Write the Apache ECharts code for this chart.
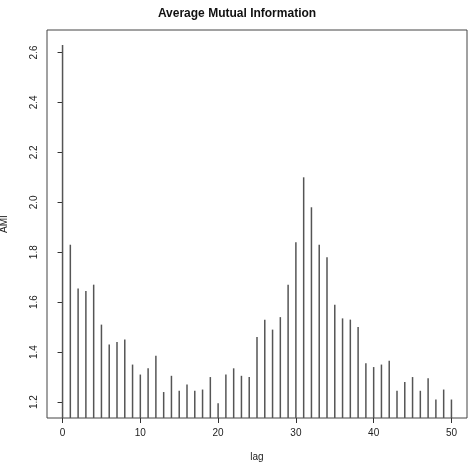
<!DOCTYPE html>
<html>
<head>
<meta charset="utf-8">
<script src="https://cdn.jsdelivr.net/npm/echarts@6/dist/echarts.min.js"></script>
<style>html,body{margin:0;padding:0;background:#fff}#main{width:474px;height:466px}</style>
</head>
<body>
<div id="main"></div>
<script>
var lags = [];
for (var i = 0; i <= 50; i++) lags.push(i);
var ami = [2.63, 1.83, 1.655, 1.645, 1.67, 1.51, 1.43, 1.44, 1.45, 1.35,
    1.31, 1.335, 1.385, 1.24, 1.305, 1.245, 1.27, 1.245, 1.25, 1.30,
    1.195, 1.31, 1.335, 1.305, 1.30, 1.46, 1.53, 1.49, 1.54, 1.67,
    1.84, 2.10, 1.98, 1.83, 1.78, 1.59, 1.535, 1.53, 1.50, 1.355,
    1.34, 1.35, 1.365, 1.245, 1.28, 1.30, 1.245, 1.295, 1.21, 1.25,
    1.21];
var xTicks = [0, 10, 20, 30, 40, 50];
var yTicks = [1.2, 1.4, 1.6, 1.8, 2.0, 2.2, 2.4, 2.6];

var myChart = echarts.init(document.getElementById('main'));
var font = 'Liberation Sans';
myChart.setOption({
    backgroundColor: '#fff',
    animation: false,
    title: {
        text: 'Average Mutual Information',
        left: 'center', top: 3,
        textStyle: {fontFamily: font, fontSize: 12, fontWeight: 'bold', color: '#111'}
    },
    grid: {left: 47, right: 7, top: 30, bottom: 48, show: true, borderColor: '#444', borderWidth: 1,
        containLabel: false, outerBoundsMode: 'none'},
    xAxis: {
        type: 'value', min: -2, max: 52,
        name: 'lag', nameLocation: 'middle', nameGap: 34,
        nameTextStyle: {fontFamily: font, fontSize: 10, color: '#222'},
        axisLine: {show: false},
        splitLine: {show: false},
        axisTick: {show: true, length: 5, customValues: xTicks, lineStyle: {color: '#333'}},
        axisLabel: {customValues: xTicks, fontFamily: font, fontSize: 10, color: '#222', margin: 10}
    },
    yAxis: {
        type: 'value', min: 1.136, max: 2.69,
        name: 'AMI', nameLocation: 'middle', nameGap: 38, nameRotate: 90,
        nameTextStyle: {fontFamily: font, fontSize: 10, color: '#222'},
        axisLine: {show: false},
        splitLine: {show: false},
        axisTick: {show: true, length: 5, customValues: yTicks, lineStyle: {color: '#333'}},
        axisLabel: {customValues: yTicks, rotate: 90, fontFamily: font, fontSize: 10, color: '#222',
            formatter: function (v) { return v.toFixed(1); }}
    },
    series: [{
        type: 'bar',
        barWidth: 1.5,
        itemStyle: {color: '#555'},
        data: lags.map(function (l, k) { return [l, ami[k]]; })
    }]
});
</script>
</body>
</html>
